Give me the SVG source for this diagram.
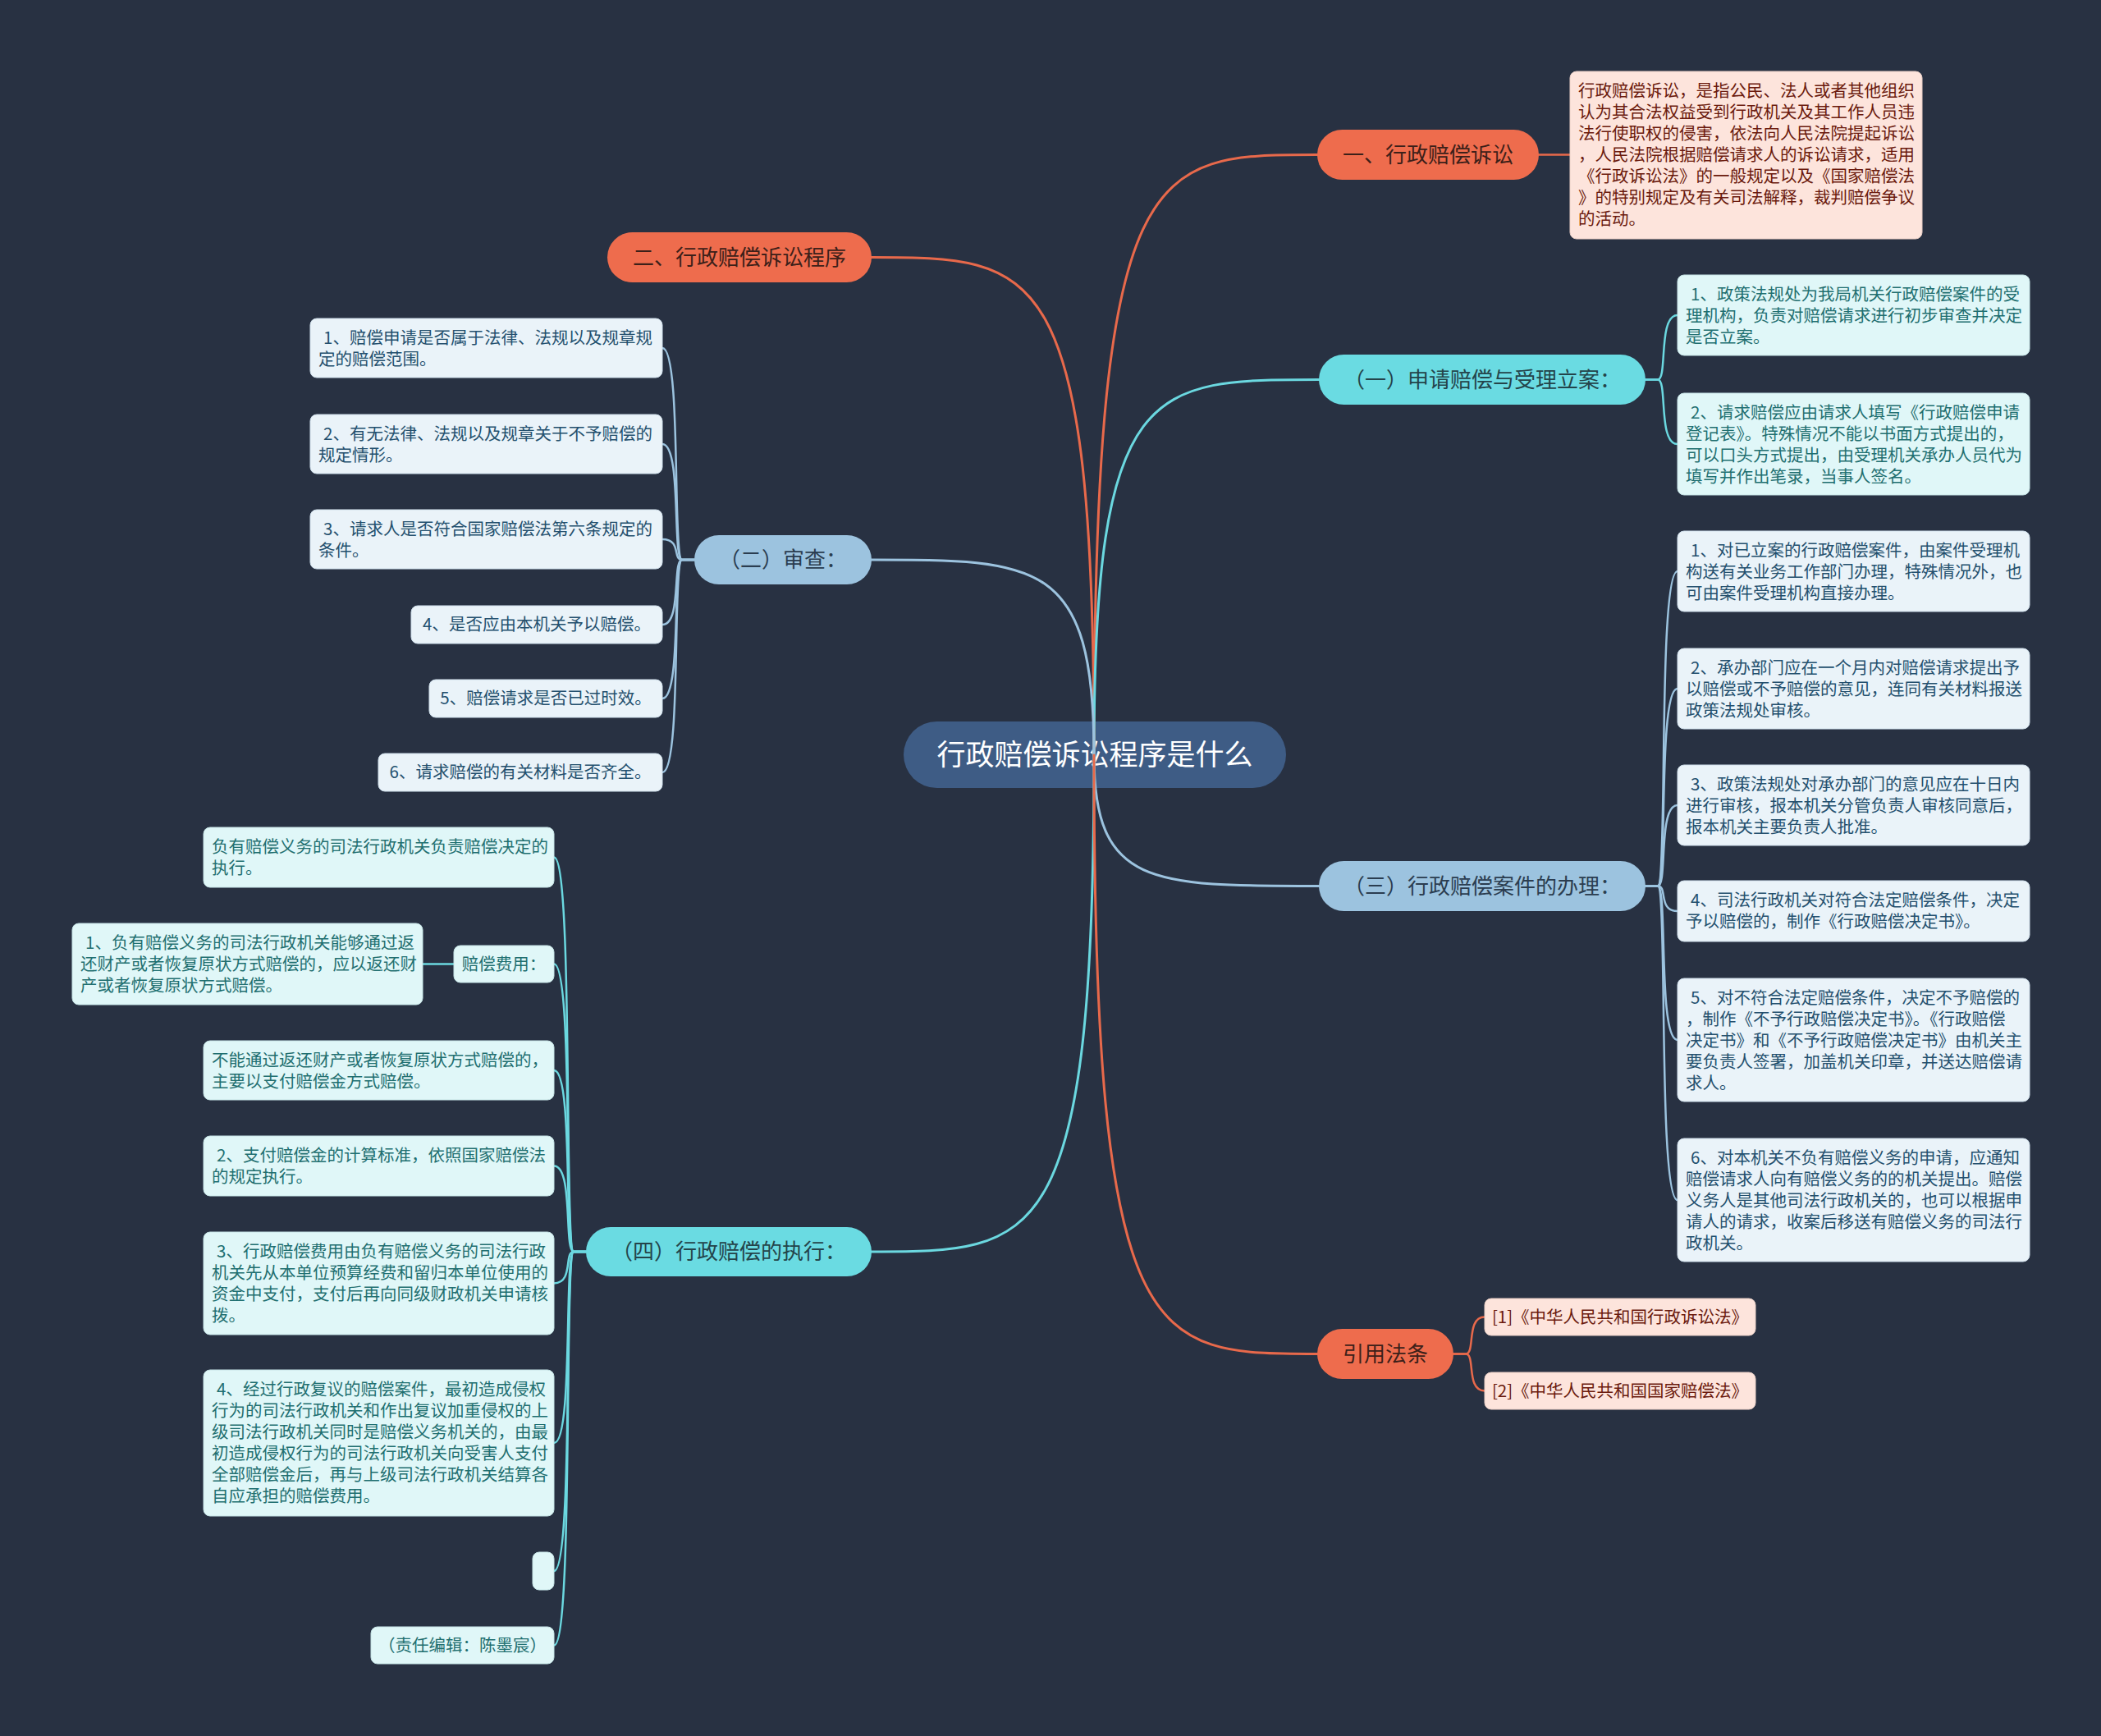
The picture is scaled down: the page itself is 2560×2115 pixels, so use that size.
<svg xmlns="http://www.w3.org/2000/svg" width="2560" height="2115" viewBox="0 0 2560 2115">
<style>
text{font-family:"Noto Sans CJK SC","Noto Sans",sans-serif}
.bg{fill:#283142}
.center{fill:#3e5c85}
.ct{fill:#ffffff;font-size:35px;text-anchor:middle}
.coral{fill:#ee6c4d}
.teal{fill:#6adbe2}
.blue{fill:#9cc3df}
.bt{font-size:26px;text-anchor:middle}
.btc{fill:#3c2019}
.btt{fill:#24444a}
.btb{fill:#2b3d50}
.lp{fill:#fde4dc;stroke:#e9cfc6;stroke-width:1}
.lc{fill:#e0f7f8;stroke:#c6e4e6;stroke-width:1}
.lb{fill:#eaf3f9;stroke:#cfdfeb;stroke-width:1}
.lt{font-size:20.5px}
.tp{fill:#6b1a0d}
.tc{fill:#1f6f70}
.tb{fill:#24506e}
.c1{fill:none;stroke-width:3;stroke-linecap:round}
.c2{fill:none;stroke-width:2.5;stroke-linecap:round}
.sc{stroke:#e8694b}
.st{stroke:#6bd8e0}
.sb{stroke:#9cc3df}
</style>
<rect class="bg" x="0" y="0" width="2560" height="2115"/>

<g id="center">
<rect class="center" x="1101" y="879" width="466" height="81" rx="40.5"/>
<text class="ct" x="1334" y="932">行政赔偿诉讼程序是什么</text>
</g>

<g id="connectors">
<path class="c1 sc" d="M1333,920 C1333,188.5 1401,188.5 1605,188.5"/>
<path class="c1 sc" d="M1333,920 C1333,313.5 1265,313.5 1062,313.5"/>
<path class="c1 st" d="M1333,920 C1333,462.5 1402,462.5 1607,462.5"/>
<path class="c1 sb" d="M1333,920 C1333,682 1265,682 1062,682"/>
<path class="c1 sb" d="M1333,920 C1333,1079.5 1402,1079.5 1607,1079.5"/>
<path class="c1 st" d="M1333,920 C1333,1525 1265,1525 1062,1525"/>
<path class="c1 sc" d="M1333,920 C1333,1649.5 1401,1649.5 1605,1649.5"/>

<path class="c2 sc" d="M1875,188.5 H1913"/>

<path class="c2 st" d="M2005,462.5 H2020 C2032,462.5 2020,384 2044,384"/>
<path class="c2 st" d="M2005,462.5 H2020 C2032,462.5 2020,541 2044,541"/>

<path class="c2 sb" d="M2005,1079.5 H2020 C2032,1079.5 2020,696 2044,696"/>
<path class="c2 sb" d="M2005,1079.5 H2020 C2032,1079.5 2020,839 2044,839"/>
<path class="c2 sb" d="M2005,1079.5 H2020 C2032,1079.5 2020,981 2044,981"/>
<path class="c2 sb" d="M2005,1079.5 H2020 C2032,1079.5 2020,1110 2044,1110"/>
<path class="c2 sb" d="M2005,1079.5 H2020 C2032,1079.5 2020,1267 2044,1267"/>
<path class="c2 sb" d="M2005,1079.5 H2020 C2032,1079.5 2020,1462 2044,1462"/>

<path class="c2 sb" d="M846,682 H831 C819,682 831,424 807,424"/>
<path class="c2 sb" d="M846,682 H831 C819,682 831,541 807,541"/>
<path class="c2 sb" d="M846,682 H831 C819,682 831,657 807,657"/>
<path class="c2 sb" d="M846,682 H831 C819,682 831,761 807,761"/>
<path class="c2 sb" d="M846,682 H831 C819,682 831,851 807,851"/>
<path class="c2 sb" d="M846,682 H831 C819,682 831,941 807,941"/>

<path class="c2 st" d="M714,1525 H699 C687,1525 699,1044.5 675,1044.5"/>
<path class="c2 st" d="M714,1525 H699 C687,1525 699,1174.5 675,1174.5"/>
<path class="c2 st" d="M714,1525 H699 C687,1525 699,1304 675,1304"/>
<path class="c2 st" d="M714,1525 H699 C687,1525 699,1420.5 675,1420.5"/>
<path class="c2 st" d="M714,1525 H699 C687,1525 699,1563.5 675,1563.5"/>
<path class="c2 st" d="M714,1525 H699 C687,1525 699,1758 675,1758"/>
<path class="c2 st" d="M714,1525 H699 C687,1525 699,1914 675,1914"/>
<path class="c2 st" d="M714,1525 H699 C687,1525 699,2004.5 675,2004.5"/>
<path class="c2 st" d="M553,1174.5 H515"/>

<path class="c2 sc" d="M1771,1649.5 H1786 C1798,1649.5 1786,1604.5 1809,1604.5"/>
<path class="c2 sc" d="M1771,1649.5 H1786 C1798,1649.5 1786,1694.5 1809,1694.5"/>
</g>

<g id="b1">
<rect class="coral" x="1605" y="158" width="270" height="61" rx="30.5"/>
<text class="bt btc" x="1740" y="197.5">一、行政赔偿诉讼</text>
</g>
<g id="b1-desc">
<rect class="lp" x="1913" y="87" width="429" height="204" rx="8"/>
<text class="lt tp"><tspan x="1923" y="118">行政赔偿诉讼，是指公民、法人或者其他组织</tspan><tspan x="1923" y="144">认为其合法权益受到行政机关及其工作人员违</tspan><tspan x="1923" y="170">法行使职权的侵害，依法向人民法院提起诉讼</tspan><tspan x="1923" y="196">，人民法院根据赔偿请求人的诉讼请求，适用</tspan><tspan x="1923" y="222">《行政诉讼法》的一般规定以及《国家赔偿法</tspan><tspan x="1923" y="248">》的特别规定及有关司法解释，裁判赔偿争议</tspan><tspan x="1923" y="274">的活动。</tspan></text>
</g>

<g id="b2">
<rect class="coral" x="740" y="283" width="322" height="61" rx="30.5"/>
<text class="bt btc" x="901" y="322.5">二、行政赔偿诉讼程序</text>
</g>

<g id="s1">
<rect class="teal" x="1607" y="432" width="398" height="61" rx="30.5"/>
<text class="bt btt" x="1806" y="471.5">（一）申请赔偿与受理立案：</text>
</g>
<g id="s1-1">
<rect class="lc" x="2044" y="335" width="429" height="98" rx="8"/>
<text class="lt tc"><tspan x="2060" y="366">1、政策法规处为我局机关行政赔偿案件的受</tspan><tspan x="2054" y="392">理机构，负责对赔偿请求进行初步审查并决定</tspan><tspan x="2054" y="418">是否立案。</tspan></text>
</g>
<g id="s1-2">
<rect class="lc" x="2044" y="479" width="429" height="124" rx="8"/>
<text class="lt tc"><tspan x="2060" y="510">2、请求赔偿应由请求人填写《行政赔偿申请</tspan><tspan x="2054" y="536">登记表》。特殊情况不能以书面方式提出的，</tspan><tspan x="2054" y="562">可以口头方式提出，由受理机关承办人员代为</tspan><tspan x="2054" y="588">填写并作出笔录，当事人签名。</tspan></text>
</g>

<g id="s2">
<rect class="blue" x="846" y="652" width="216" height="60" rx="30"/>
<text class="bt btb" x="954" y="691">（二）审查：</text>
</g>
<g id="s2-1">
<rect class="lb" x="378" y="388" width="429" height="72" rx="8"/>
<text class="lt tb"><tspan x="394" y="419">1、赔偿申请是否属于法律、法规以及规章规</tspan><tspan x="388" y="445">定的赔偿范围。</tspan></text>
</g>
<g id="s2-2">
<rect class="lb" x="378" y="505" width="429" height="72" rx="8"/>
<text class="lt tb"><tspan x="394" y="536">2、有无法律、法规以及规章关于不予赔偿的</tspan><tspan x="388" y="562">规定情形。</tspan></text>
</g>
<g id="s2-3">
<rect class="lb" x="378" y="621" width="429" height="72" rx="8"/>
<text class="lt tb"><tspan x="394" y="652">3、请求人是否符合国家赔偿法第六条规定的</tspan><tspan x="388" y="678">条件。</tspan></text>
</g>
<g id="s2-4">
<rect class="lb" x="501" y="738" width="306" height="46" rx="8"/>
<text class="lt tb" x="654" y="768" text-anchor="middle">4、是否应由本机关予以赔偿。</text>
</g>
<g id="s2-5">
<rect class="lb" x="523" y="828" width="284" height="46" rx="8"/>
<text class="lt tb" x="665" y="858" text-anchor="middle">5、赔偿请求是否已过时效。</text>
</g>
<g id="s2-6">
<rect class="lb" x="461" y="918" width="346" height="46" rx="8"/>
<text class="lt tb" x="634" y="948" text-anchor="middle">6、请求赔偿的有关材料是否齐全。</text>
</g>

<g id="s3">
<rect class="blue" x="1607" y="1049" width="398" height="61" rx="30.5"/>
<text class="bt btb" x="1806" y="1088.5">（三）行政赔偿案件的办理：</text>
</g>
<g id="s3-1">
<rect class="lb" x="2044" y="647" width="429" height="98" rx="8"/>
<text class="lt tb"><tspan x="2060" y="678">1、对已立案的行政赔偿案件，由案件受理机</tspan><tspan x="2054" y="704">构送有关业务工作部门办理，特殊情况外，也</tspan><tspan x="2054" y="730">可由案件受理机构直接办理。</tspan></text>
</g>
<g id="s3-2">
<rect class="lb" x="2044" y="790" width="429" height="98" rx="8"/>
<text class="lt tb"><tspan x="2060" y="821">2、承办部门应在一个月内对赔偿请求提出予</tspan><tspan x="2054" y="847">以赔偿或不予赔偿的意见，连同有关材料报送</tspan><tspan x="2054" y="873">政策法规处审核。</tspan></text>
</g>
<g id="s3-3">
<rect class="lb" x="2044" y="932" width="429" height="98" rx="8"/>
<text class="lt tb"><tspan x="2060" y="963">3、政策法规处对承办部门的意见应在十日内</tspan><tspan x="2054" y="989">进行审核，报本机关分管负责人审核同意后，</tspan><tspan x="2054" y="1015">报本机关主要负责人批准。</tspan></text>
</g>
<g id="s3-4">
<rect class="lb" x="2044" y="1073" width="429" height="74" rx="8"/>
<text class="lt tb"><tspan x="2060" y="1104">4、司法行政机关对符合法定赔偿条件，决定</tspan><tspan x="2054" y="1130">予以赔偿的，制作《行政赔偿决定书》。</tspan></text>
</g>
<g id="s3-5">
<rect class="lb" x="2044" y="1192" width="429" height="150" rx="8"/>
<text class="lt tb"><tspan x="2060" y="1223">5、对不符合法定赔偿条件，决定不予赔偿的</tspan><tspan x="2054" y="1249">，制作《不予行政赔偿决定书》。《行政赔偿</tspan><tspan x="2054" y="1275">决定书》和《不予行政赔偿决定书》由机关主</tspan><tspan x="2054" y="1301">要负责人签署，加盖机关印章，并送达赔偿请</tspan><tspan x="2054" y="1327">求人。</tspan></text>
</g>
<g id="s3-6">
<rect class="lb" x="2044" y="1387" width="429" height="150" rx="8"/>
<text class="lt tb"><tspan x="2060" y="1418">6、对本机关不负有赔偿义务的申请，应通知</tspan><tspan x="2054" y="1444">赔偿请求人向有赔偿义务的的机关提出。赔偿</tspan><tspan x="2054" y="1470">义务人是其他司法行政机关的，也可以根据申</tspan><tspan x="2054" y="1496">请人的请求，收案后移送有赔偿义务的司法行</tspan><tspan x="2054" y="1522">政机关。</tspan></text>
</g>

<g id="s4">
<rect class="teal" x="714" y="1495" width="348" height="60" rx="30"/>
<text class="bt btt" x="888" y="1534">（四）行政赔偿的执行：</text>
</g>
<g id="s4-a">
<rect class="lc" x="248" y="1008" width="427" height="73" rx="8"/>
<text class="lt tc"><tspan x="258" y="1039">负有赔偿义务的司法行政机关负责赔偿决定的</tspan><tspan x="258" y="1065">执行。</tspan></text>
</g>
<g id="s4-b">
<rect class="lc" x="553" y="1152" width="122" height="45" rx="8"/>
<text class="lt tc" x="614" y="1182" text-anchor="middle">赔偿费用：</text>
</g>
<g id="s4-b-1">
<rect class="lc" x="88" y="1125" width="427" height="99" rx="8"/>
<text class="lt tc"><tspan x="104" y="1156">1、负有赔偿义务的司法行政机关能够通过返</tspan><tspan x="98" y="1182">还财产或者恢复原状方式赔偿的，应以返还财</tspan><tspan x="98" y="1208">产或者恢复原状方式赔偿。</tspan></text>
</g>
<g id="s4-c">
<rect class="lc" x="248" y="1268" width="427" height="72" rx="8"/>
<text class="lt tc"><tspan x="258" y="1299">不能通过返还财产或者恢复原状方式赔偿的，</tspan><tspan x="258" y="1325">主要以支付赔偿金方式赔偿。</tspan></text>
</g>
<g id="s4-d">
<rect class="lc" x="248" y="1384" width="427" height="73" rx="8"/>
<text class="lt tc"><tspan x="264" y="1415">2、支付赔偿金的计算标准，依照国家赔偿法</tspan><tspan x="258" y="1441">的规定执行。</tspan></text>
</g>
<g id="s4-e">
<rect class="lc" x="248" y="1501" width="427" height="125" rx="8"/>
<text class="lt tc"><tspan x="264" y="1532">3、行政赔偿费用由负有赔偿义务的司法行政</tspan><tspan x="258" y="1558">机关先从本单位预算经费和留归本单位使用的</tspan><tspan x="258" y="1584">资金中支付，支付后再向同级财政机关申请核</tspan><tspan x="258" y="1610">拨。</tspan></text>
</g>
<g id="s4-f">
<rect class="lc" x="248" y="1669" width="427" height="178" rx="8"/>
<text class="lt tc"><tspan x="264" y="1700">4、经过行政复议的赔偿案件，最初造成侵权</tspan><tspan x="258" y="1726">行为的司法行政机关和作出复议加重侵权的上</tspan><tspan x="258" y="1752">级司法行政机关同时是赔偿义务机关的，由最</tspan><tspan x="258" y="1778">初造成侵权行为的司法行政机关向受害人支付</tspan><tspan x="258" y="1804">全部赔偿金后，再与上级司法行政机关结算各</tspan><tspan x="258" y="1830">自应承担的赔偿费用。</tspan></text>
</g>
<g id="s4-g">
<rect class="lc" x="649" y="1891" width="26" height="46" rx="8"/>
</g>
<g id="s4-h">
<rect class="lc" x="452" y="1982" width="223" height="45" rx="8"/>
<text class="lt tc" x="563.5" y="2012" text-anchor="middle">（责任编辑：陈墨宸）</text>
</g>

<g id="refs">
<rect class="coral" x="1605" y="1619" width="166" height="61" rx="30.5"/>
<text class="bt btc" x="1688" y="1658.5">引用法条</text>
</g>
<g id="ref-1">
<rect class="lp" x="1809" y="1582" width="330" height="45" rx="8"/>
<text class="lt tp" x="1974" y="1612" text-anchor="middle">[1]《中华人民共和国行政诉讼法》</text>
</g>
<g id="ref-2">
<rect class="lp" x="1809" y="1672" width="330" height="45" rx="8"/>
<text class="lt tp" x="1974" y="1702" text-anchor="middle">[2]《中华人民共和国国家赔偿法》</text>
</g>
</svg>
